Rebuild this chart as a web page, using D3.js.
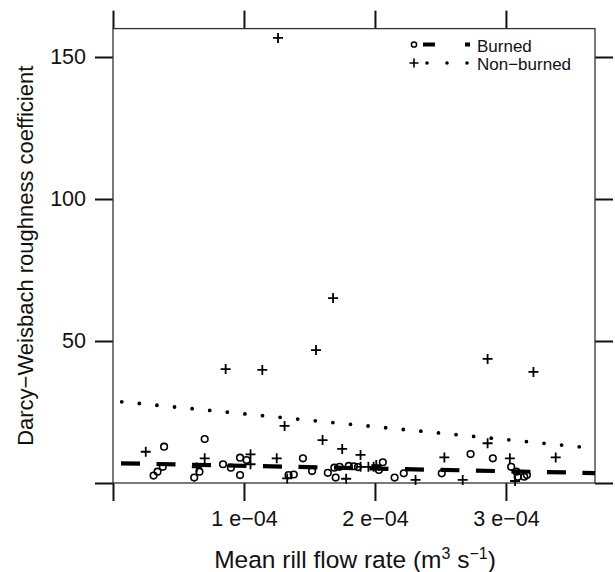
<!DOCTYPE html>
<html>
<head>
<meta charset="utf-8">
<script src="https://cdn.jsdelivr.net/npm/d3@7"></script>
<style>
  html, body { margin: 0; padding: 0; background: #fff; }
  svg { display: block; font-family: "Liberation Sans", Arial, Helvetica, sans-serif; }
</style>
</head>
<body>
<svg id="chart" width="615" height="572"></svg>
<script>
// Mean rill flow rate (m^3 s^-1) against Darcy-Weisbach roughness coefficient
const burnedX = [0.31e-4, 0.34e-4, 0.38e-4, 0.39e-4, 0.62e-4, 0.66e-4, 0.70e-4, 0.84e-4, 0.90e-4,
  0.97e-4, 0.97e-4, 1.02e-4, 1.34e-4, 1.38e-4, 1.45e-4, 1.52e-4, 1.64e-4, 1.69e-4, 1.70e-4,
  1.73e-4, 1.80e-4, 1.84e-4, 1.87e-4, 2.03e-4, 2.06e-4, 2.15e-4, 2.22e-4, 2.51e-4, 2.73e-4,
  2.90e-4, 3.04e-4, 3.08e-4, 3.09e-4, 3.14e-4, 3.16e-4];
const burnedY = [2.6, 4.0, 5.7, 12.8, 1.9, 4.0, 15.5, 6.6, 5.4,
  8.9, 2.8, 8.1, 2.8, 3.0, 8.7, 4.2, 3.6, 5.4, 1.9,
  5.7, 6.0, 5.9, 5.6, 4.6, 7.3, 1.9, 3.4, 3.4, 10.2,
  8.7, 5.7, 4.0, 2.2, 2.2, 2.8];

const nonBurnedX = [0.25e-4, 0.64e-4, 0.70e-4, 0.86e-4, 1.05e-4, 1.05e-4, 1.14e-4, 1.25e-4, 1.26e-4,
  1.31e-4, 1.33e-4, 1.55e-4, 1.60e-4, 1.68e-4, 1.75e-4, 1.78e-4, 1.89e-4, 1.89e-4, 1.95e-4,
  1.99e-4, 2.01e-4, 2.31e-4, 2.53e-4, 2.67e-4, 2.86e-4, 2.86e-4, 3.03e-4, 3.07e-4, 3.21e-4, 3.38e-4];
const nonBurnedY = [11.0, 5.5, 8.7, 40.1, 10.1, 6.6, 39.8, 8.7, 156.7,
  20.1, 1.6, 46.8, 15.1, 65.1, 12.0, 1.5, 9.9, 5.7, 5.7,
  5.7, 6.3, 1.1, 9.0, 1.1, 43.7, 14.0, 8.7, 0.7, 39.1, 9.0];

// fitted regression lines (endpoints at the panel limits)
const fitX = [0, 3.68e-4];
const burnedFitY = [7.0, 3.5];
const nonBurnedFitY = [28.9, 12.2];

const xTicks = [0, 1e-4, 2e-4, 3e-4];
const xTickLabels = ["", "1 e\u221204", "2 e\u221204", "3 e\u221204"];
const yTicks = [0, 50, 100, 150];
const yTickLabels = ["", "50", "100", "150"];

const seriesNames = ["Burned", "Non\u2212burned"];

const svg = d3.select("#chart");
const panelLeft = 113, panelRight = 595, panelTop = 28.6, panelBottom = 483;
const tickLen = 18;

const x = d3.scaleLinear().domain([0, 3.68e-4]).range([panelLeft, panelRight]);
const y = d3.scaleLinear().domain([0, 160]).range([panelBottom, panelTop]);

// axes on all four sides, ticks pointing outward
function styleAxis(g) {
  g.select(".domain").remove();
  g.selectAll(".tick line").attr("stroke", "#111").attr("stroke-width", 2);
  g.selectAll(".tick text").attr("fill", "#111")
    .style("font-family", "'Liberation Sans', Arial, sans-serif")
    .style("font-size", "21.5px");
}
svg.append("g").attr("transform", `translate(${panelLeft},0)`)
  .call(d3.axisLeft(y).tickValues(yTicks).tickSize(tickLen).tickPadding(9)
    .tickFormat((d, i) => yTickLabels[i]))
  .call(styleAxis);
svg.append("g").attr("transform", `translate(${panelRight},0)`)
  .call(d3.axisRight(y).tickValues(yTicks).tickSize(tickLen).tickFormat(() => ""))
  .call(styleAxis);
svg.append("g").attr("transform", `translate(0,${panelBottom})`)
  .call(d3.axisBottom(x).tickValues(xTicks).tickSize(tickLen).tickPadding(10)
    .tickFormat((d, i) => xTickLabels[i]))
  .call(styleAxis);
svg.append("g").attr("transform", `translate(0,${panelTop})`)
  .call(d3.axisTop(x).tickValues(xTicks).tickSize(tickLen).tickFormat(() => ""))
  .call(styleAxis);

// panel frame
svg.append("rect")
  .attr("x", panelLeft).attr("y", panelTop)
  .attr("width", panelRight - panelLeft).attr("height", panelBottom - panelTop)
  .attr("fill", "none").attr("stroke", "#333").attr("stroke-width", 1.3);

const plot = svg.append("g");
const line = d3.line().x(d => x(d[0])).y(d => y(d[1]));

// regression lines
plot.append("path")
  .attr("d", line(fitX.map((v, i) => [v, nonBurnedFitY[i]])))
  .attr("fill", "none").attr("stroke", "#000").attr("stroke-width", 3.8)
  .attr("stroke-linecap", "round")
  .attr("stroke-dasharray", "0 17.68").attr("stroke-dashoffset", 8.9);
plot.append("path")
  .attr("d", line(fitX.map((v, i) => [v, burnedFitY[i]])))
  .attr("fill", "none").attr("stroke", "#000").attr("stroke-width", 4.2)
  .attr("stroke-dasharray", "19 16.5").attr("stroke-dashoffset", 27.5);

// points
plot.selectAll("circle.burned")
  .data(burnedX.map((v, i) => [v, burnedY[i]]))
  .join("circle").attr("class", "burned")
  .attr("cx", d => x(d[0])).attr("cy", d => y(d[1])).attr("r", 3.3)
  .attr("fill", "none").attr("stroke", "#000").attr("stroke-width", 1.6);

plot.selectAll("path.nonburned")
  .data(nonBurnedX.map((v, i) => [v, nonBurnedY[i]]))
  .join("path").attr("class", "nonburned")
  .attr("transform", d => `translate(${x(d[0])},${y(d[1])})`)
  .attr("d", "M-5,0H5M0,-5V5")
  .attr("fill", "none").attr("stroke", "#000").attr("stroke-width", 1.8);

// axis titles
svg.append("text")
  .attr("x", (panelLeft + panelRight) / 2 + 1).attr("y", 568)
  .attr("text-anchor", "middle")
  .style("font-size", "24.5px").attr("fill", "#111")
  .call(t => {
    t.append("tspan").text("Mean rill flow rate (m");
    t.append("tspan").text("3").attr("dy", -9).style("font-size", "16px");
    t.append("tspan").text(" s").attr("dy", 9);
    t.append("tspan").text("\u22121").attr("dy", -9).style("font-size", "16px");
    t.append("tspan").text(")").attr("dy", 9);
  });

svg.append("text")
  .attr("transform", `translate(33,${(panelTop + panelBottom) / 2}) rotate(-90)`)
  .attr("text-anchor", "middle")
  .style("font-size", "22px").attr("fill", "#111")
  .text("Darcy\u2212Weisbach roughness coefficient");

// legend
const legend = svg.append("g");
legend.append("circle").attr("cx", 414).attr("cy", 44.5).attr("r", 2.6)
  .attr("fill", "none").attr("stroke", "#000").attr("stroke-width", 1.5);
legend.append("path").attr("d", "M423,44.5H470")
  .attr("stroke", "#000").attr("stroke-width", 4).attr("stroke-dasharray", "12 30 5");
legend.append("text").attr("x", 477).attr("y", 51.5)
  .style("font-size", "17px").attr("fill", "#111").text(seriesNames[0]);

legend.append("path").attr("d", "M409.5,63H418.5M414,58.5V67.5")
  .attr("fill", "none").attr("stroke", "#000").attr("stroke-width", 1.6);
legend.append("path").attr("d", "M427,63H470")
  .attr("stroke", "#000").attr("stroke-width", 3.6).attr("stroke-linecap", "round")
  .attr("stroke-dasharray", "0 20");
legend.append("text").attr("x", 477).attr("y", 69.5)
  .style("font-size", "17px").attr("fill", "#111").text(seriesNames[1]);
</script>
</body>
</html>
